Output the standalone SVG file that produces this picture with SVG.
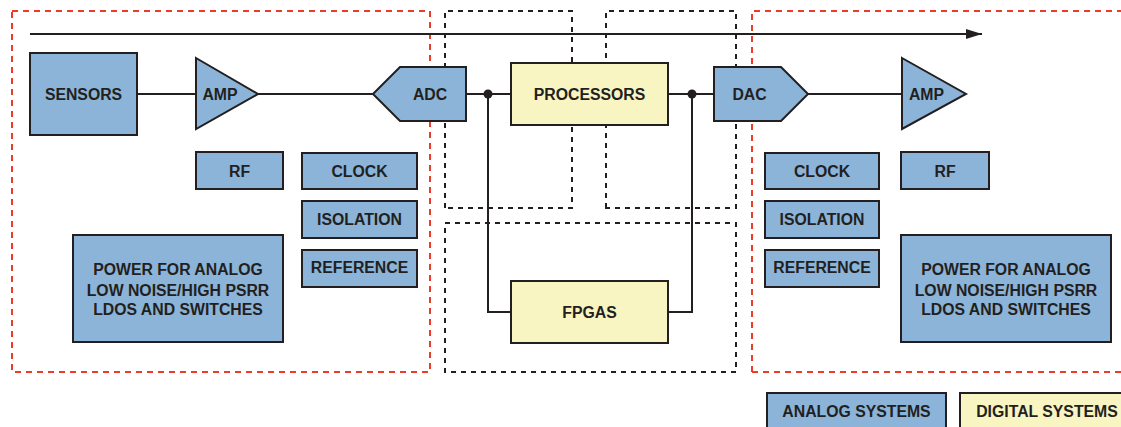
<svg xmlns="http://www.w3.org/2000/svg" width="1121" height="427" viewBox="0 0 1121 427">
<style>
.a{fill:#8bb4d8;stroke:#231f20;stroke-width:2}
.d{fill:#f8f5c2;stroke:#231f20;stroke-width:2}
.t{font-family:"Liberation Sans",Arial,sans-serif;font-weight:bold;font-size:15.8px;fill:#231f20;text-anchor:middle}
.rb{fill:none;stroke:#ec3b26;stroke-width:2;stroke-dasharray:6 5}
.kb{fill:none;stroke:#231f20;stroke-width:2;stroke-dasharray:5 5}
.c{fill:none;stroke:#231f20;stroke-width:2}
</style>
<defs>
<marker id="ah" viewBox="0 0 16 10" refX="16" refY="5" markerWidth="16" markerHeight="10" markerUnits="userSpaceOnUse" orient="auto">
<path d="M0,0 L16,5 L0,10 Z" fill="#231f20"/>
</marker>
</defs>
<rect width="1121" height="427" fill="#ffffff"/>
<g id="boundaries">
<rect class="rb" x="12" y="11" width="418" height="361"/>
<path class="rb" d="M752,372 V11 H1125 M752,372 H1125"/>
<path class="kb" d="M445,208 V11 H572 V208 Z"/>
<path class="kb" d="M606,208 V11 H736 V208 Z"/>
<rect class="kb" x="445" y="223" width="291" height="149"/>
</g>
<g id="connectors">
<line class="c" x1="30" y1="34" x2="982" y2="34" marker-end="url(#ah)"/>
<line class="c" x1="137" y1="94" x2="196" y2="94"/>
<line class="c" x1="258" y1="94" x2="373" y2="94"/>
<line class="c" x1="466" y1="94" x2="511" y2="94"/>
<line class="c" x1="668" y1="94" x2="714" y2="94"/>
<line class="c" x1="808" y1="94" x2="902" y2="94"/>
<path class="c" d="M488,94 V312 H511"/>
<path class="c" d="M692,94 V312 H668"/>
<circle cx="488" cy="94" r="4.5" fill="#231f20"/>
<circle cx="692" cy="94" r="4.5" fill="#231f20"/>
</g>
<g id="sensors"><rect class="a" x="30" y="53" width="107" height="82"/><text class="t" x="83.5" y="99.5">SENSORS</text></g>
<g id="amp-in"><polygon class="a" points="196,58 258,94 196,129"/><text class="t" x="220" y="99.5">AMP</text></g>
<g id="adc"><polygon class="a" points="373,94 400,67 466,67 466,121 400,121"/><text class="t" x="430" y="99.5">ADC</text></g>
<g id="processors"><rect class="d" x="511" y="63" width="157" height="62"/><text class="t" x="589.5" y="99.5">PROCESSORS</text></g>
<g id="dac"><polygon class="a" points="714,67 781,67 808,94 781,121 714,121"/><text class="t" x="749.5" y="99.5">DAC</text></g>
<g id="amp-out"><polygon class="a" points="902,58 966,94 902,129"/><text class="t" x="926.5" y="99.5">AMP</text></g>
<g id="fpgas"><rect class="d" x="511" y="281" width="157" height="62"/><text class="t" x="589.5" y="317.5">FPGAS</text></g>
<g id="rf-in"><rect class="a" x="196" y="152" width="87" height="37"/><text class="t" x="239.5" y="176.5">RF</text></g>
<g id="clock-in"><rect class="a" x="302" y="153" width="115" height="36"/><text class="t" x="359.5" y="176.5">CLOCK</text></g>
<g id="isolation-in"><rect class="a" x="302" y="201" width="115" height="37"/><text class="t" x="359.5" y="225">ISOLATION</text></g>
<g id="reference-in"><rect class="a" x="302" y="250" width="115" height="37"/><text class="t" x="359.5" y="273">REFERENCE</text></g>
<g id="power-in"><rect class="a" x="73" y="235" width="210" height="107"/>
<text class="t" x="178" y="275">POWER FOR ANALOG</text><text class="t" x="178" y="295.5">LOW NOISE/HIGH PSRR</text><text class="t" x="178" y="315">LDOS AND SWITCHES</text></g>
<g id="clock-out"><rect class="a" x="765" y="153" width="114" height="36"/><text class="t" x="822" y="176.5">CLOCK</text></g>
<g id="rf-out"><rect class="a" x="901" y="152" width="88" height="37"/><text class="t" x="945" y="176.5">RF</text></g>
<g id="isolation-out"><rect class="a" x="765" y="201" width="114" height="37"/><text class="t" x="822" y="225">ISOLATION</text></g>
<g id="reference-out"><rect class="a" x="765" y="250" width="114" height="37"/><text class="t" x="822" y="273">REFERENCE</text></g>
<g id="power-out"><rect class="a" x="901" y="235" width="210" height="107"/>
<text class="t" x="1006" y="275">POWER FOR ANALOG</text><text class="t" x="1006" y="295.5">LOW NOISE/HIGH PSRR</text><text class="t" x="1006" y="315">LDOS AND SWITCHES</text></g>
<g id="legend-analog"><rect class="a" x="767" y="393" width="179" height="45"/><text class="t" x="856.5" y="417">ANALOG SYSTEMS</text></g>
<g id="legend-digital"><rect class="d" x="960" y="393" width="175" height="45"/><text class="t" x="1047" y="417">DIGITAL SYSTEMS</text></g>
</svg>
